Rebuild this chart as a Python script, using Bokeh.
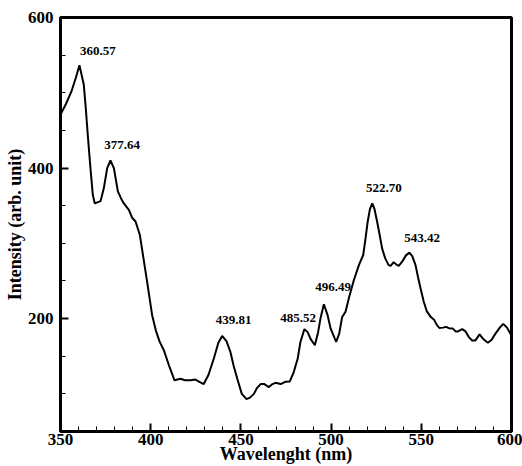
from bokeh.plotting import figure
from bokeh.models import FixedTicker, ColumnDataSource, Range1d
from bokeh.core.properties import value
from bokeh.embed import file_html
from bokeh.resources import INLINE

wavelength = [350.0, 350.5, 352.8, 356.1, 358.5, 360.5, 362.9, 364.0, 365.1, 366.6, 367.9, 369.0,
              372.2, 374.0, 375.9, 377.7, 379.6, 381.8, 383.5, 385.1, 387.9, 389.7, 391.6,
              394.0, 396.0, 398.0, 400.8, 403.0, 405.0, 407.3, 410.1, 413.2, 416.5, 419.0,
              422.0, 424.8, 427.0, 429.4, 432.0, 435.0, 437.5, 439.6, 442.0, 444.2, 446.0,
              448.0, 450.5, 453.1, 455.0, 457.2, 459.0, 460.9, 463.0, 465.5, 467.5, 469.2,
              472.0, 474.5, 477.1, 479.3, 481.5, 483.0, 485.2, 487.0, 488.6, 491.0, 492.8,
              494.1, 496.0, 498.0, 499.7, 502.8, 504.5, 506.1, 508.0, 509.8, 512.6, 515.4,
              517.8, 519.0, 520.3, 521.5, 522.8, 524.0, 525.5, 527.0, 528.3, 530.0, 531.9,
              533.0, 534.7, 536.0, 537.5, 539.5, 541.5, 543.4, 545.0, 546.8, 548.2, 549.6,
              551.4, 553.0, 555.3, 557.2, 558.5, 560.0, 562.0, 563.8, 565.5, 567.5, 569.0,
              570.3, 572.7, 574.5, 576.5, 578.2, 580.0, 582.3, 584.3, 586.9, 589.0, 591.1,
              593.5, 595.4, 597.5, 599.4, 600.0]
intensity = [470, 473.5, 484, 502, 520, 536.5, 511, 480, 444.5, 400, 364.5, 353,
             356, 373, 400, 410, 400, 369, 360, 353, 344.5, 334, 329,
             311, 280, 249, 204.5, 183, 169, 158, 138, 118, 120, 118,
             118, 119, 116, 113, 125, 147, 168, 177, 170, 155.6, 137,
             120, 100, 93, 95, 100, 108, 113, 113, 109, 113, 114.7,
             113, 116, 116.5, 129, 147, 169, 186, 182, 173, 164.5, 182,
             200, 219, 205, 187, 169, 180, 202, 209, 226.7, 251, 271,
             284.5, 305, 329, 345, 353, 346, 329, 310, 293, 280, 271,
             270, 275, 272, 270, 276, 284, 287.6, 283, 271, 255, 240,
             222, 210, 202, 198, 192, 187.5, 188, 189, 187, 186.7, 183,
             183, 186, 183, 175, 171, 171, 179, 173, 168, 172, 180,
             188, 193, 188, 180, 177]

peak_labels = ["360.57", "377.64", "439.81", "485.52", "496.49", "522.70", "543.42"]
label_x = [370.7, 384.2, 446.0, 481.7, 501.1, 529.2, 550.5]
label_y = [555.6, 430.0, 198.0, 201.0, 242.0, 373.0, 306.7]

x_major = [350, 400, 450, 500, 550, 600]
x_minor = list(range(350, 601, 10))
y_major = [200, 400, 600]
y_minor = list(range(50, 601, 50))

serif = "Liberation Serif"

p = figure(width=522, height=466, output_backend="svg", toolbar_location=None,
           x_range=Range1d(350, 600), y_range=Range1d(50, 600),
           min_border_left=60, min_border_right=11, min_border_top=17, min_border_bottom=0)
p.background_fill_color = "white"
p.border_fill_color = "white"
p.grid.visible = False
p.outline_line_color = "black"
p.outline_line_width = 3

p.line(wavelength, intensity, line_color="black", line_width=2)

src = ColumnDataSource(dict(x=label_x, y=label_y, t=peak_labels))
p.text(x="x", y="y", text="t", source=src, text_align="center", text_baseline="middle",
       text_font=value(serif), text_font_style="bold", text_font_size="13px", text_color="black")

for ax, maj, mnr in ((p.xaxis[0], x_major, x_minor), (p.yaxis[0], y_major, y_minor)):
    ax.ticker = FixedTicker(ticks=maj, minor_ticks=mnr)
    ax.axis_line_width = 3
    ax.axis_line_color = "black"
    ax.major_tick_in = 8
    ax.major_tick_out = 0
    ax.minor_tick_in = 5
    ax.minor_tick_out = 0
    ax.major_tick_line_width = 2
    ax.minor_tick_line_width = 1
    ax.major_label_text_font = serif
    ax.major_label_text_font_style = "bold"
    ax.major_label_text_font_size = "17px"
    ax.major_label_text_color = "black"
    ax.axis_label_text_font = serif
    ax.axis_label_text_font_style = "bold"
    ax.axis_label_text_font_size = "18px"
    ax.axis_label_text_color = "black"

p.xaxis.axis_label = "Wavelenght (nm)"
p.yaxis.axis_label = "Intensity (arb. unit)"
p.xaxis.major_label_standoff = 2
p.xaxis.axis_label_standoff = -4
p.yaxis.major_label_standoff = 7
p.yaxis.axis_label_standoff = 0

open("out.html", "w").write(file_html(p, INLINE))
